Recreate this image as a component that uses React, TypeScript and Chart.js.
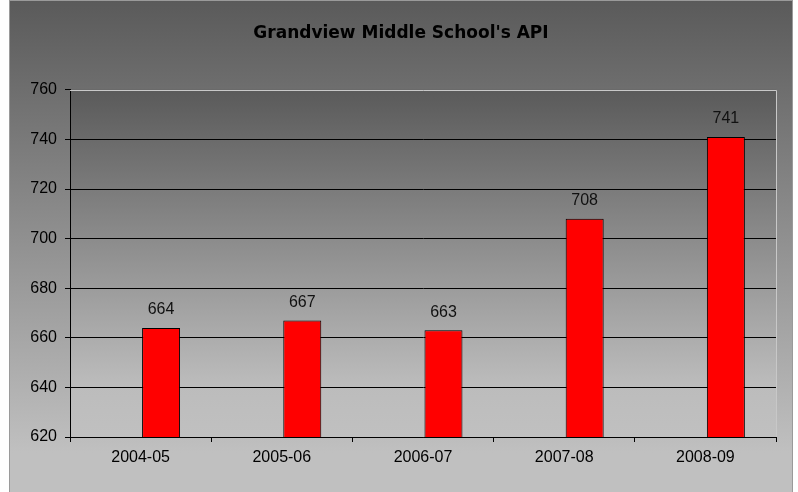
import React, { useEffect, useRef } from "react";
import { Chart, registerables } from "chart.js";

Chart.register(...registerables);

const categories = ["2004-05", "2005-06", "2006-07", "2007-08", "2008-09"];
const apiScores = [664, 667, 663, 708, 741];
// empty companion series (Excel-style slot that shifts the visible bars right of the category centre)
const emptySeries = [null, null, null, null, null];
const yMin = 620;
const yMax = 760;
const yStep = 20;
const chartTitle = "Grandview Middle School's API";

const FONT = "'Liberation Sans', Arial, sans-serif";

const backgroundPlugin = {
  id: "bgPlugin",
  beforeDraw(chart: any) {
    const { ctx, width, height, chartArea } = chart;
    ctx.save();
    ctx.fillStyle = "#ffffff";
    ctx.fillRect(0, 0, width, height);
    const g = ctx.createLinearGradient(0, 0, 0, height);
    g.addColorStop(0, "#5a5a5a");
    g.addColorStop(0.92, "#c0c0c0");
    g.addColorStop(1, "#c0c0c0");
    ctx.fillStyle = g;
    ctx.fillRect(9, 0, 784, height);
    ctx.strokeStyle = "#9a9a9a";
    ctx.lineWidth = 1;
    ctx.strokeRect(9.5, 0.5, 783, height);
    const { left, top, right, bottom } = chartArea;
    const pg = ctx.createLinearGradient(0, top, 0, bottom);
    pg.addColorStop(0, "#5a5a5a");
    pg.addColorStop(0.85, "#bcbcbc");
    pg.addColorStop(1, "#c0c0c0");
    ctx.fillStyle = pg;
    ctx.fillRect(left, top, right - left, bottom - top);
    ctx.restore();
  },
  afterDatasetsDraw(chart: any) {
    const { ctx, chartArea } = chart;
    const { left, top, right, bottom } = chartArea;
    ctx.save();
    ctx.strokeStyle = "#c8c8c8";
    ctx.lineWidth = 1;
    ctx.beginPath();
    ctx.moveTo(left, Math.round(top) + 0.5);
    ctx.lineTo(Math.round(right) + 0.5, Math.round(top) + 0.5);
    ctx.lineTo(Math.round(right) + 0.5, bottom);
    ctx.stroke();
    // data labels
    const meta = chart.getDatasetMeta(1);
    ctx.fillStyle = "#111111";
    ctx.font = `16px ${FONT}`;
    ctx.textAlign = "center";
    ctx.textBaseline = "middle";
    meta.data.forEach((bar: any, i: number) => {
      const v = chart.data.datasets[1].data[i];
      ctx.fillText(String(v), bar.x, bar.y - 18);
    });
    ctx.restore();
  },
};

export default function App() {
  const canvasRef = useRef<HTMLCanvasElement | null>(null);

  useEffect(() => {
    document.body.style.margin = "0";
    const canvas = canvasRef.current;
    if (!canvas) return;
    const chart = new Chart(canvas, {
      type: "bar",
      data: {
        labels: categories,
        datasets: [
          {
            data: emptySeries as any,
            backgroundColor: "rgba(0,0,0,0)",
            borderWidth: 0,
            barPercentage: 0.928,
            categoryPercentage: 0.58,
          },
          {
            data: apiScores,
            backgroundColor: "#ff0000",
            borderColor: "#000000",
            borderWidth: 1,
            barPercentage: 0.928,
            categoryPercentage: 0.58,
          },
        ],
      },
      options: {
        animation: false,
        responsive: true,
        maintainAspectRatio: false,
        devicePixelRatio: 1,
        layout: { padding: { left: 26, right: 22, top: 0, bottom: 15 } },
        plugins: {
          legend: { display: false },
          tooltip: { enabled: false },
          title: {
            display: true,
            text: chartTitle,
            color: "#000000",
            font: { family: "'DejaVu Sans', sans-serif", size: 17, weight: "bold" },
            padding: { top: 23, bottom: 46.4 },
          },
        },
        scales: {
          x: {
            afterFit: (scale: any) => {
              scale.height = 40;
            },
            grid: {
              display: true,
              drawOnChartArea: false,
              drawTicks: true,
              tickLength: 5,
              color: "#000000",
              tickColor: "#000000",
              offset: true,
            },
            border: { display: true, color: "#000000", width: 1 },
            ticks: {
              color: "#000000",
              font: { family: FONT, size: 16 },
              padding: 6,
            },
          },
          y: {
            min: yMin,
            max: yMax,
            afterFit: (scale: any) => {
              scale.width = 44;
            },
            grid: {
              color: (ctx: any) =>
                ctx.tick && ctx.tick.value === yMax ? "rgba(0,0,0,0)" : "#000000",
              tickColor: "#000000",
              tickLength: 5,
              drawTicks: true,
            },
            border: { display: true, color: "#000000", width: 1 },
            ticks: {
              stepSize: yStep,
              color: "#000000",
              font: { family: FONT, size: 16 },
              padding: 8,
            },
          },
        },
      },
      plugins: [backgroundPlugin],
    });
    return () => chart.destroy();
  }, []);

  return (
    <div style={{ width: 798, height: 492, position: "relative" }}>
      <canvas ref={canvasRef} />
    </div>
  );
}
